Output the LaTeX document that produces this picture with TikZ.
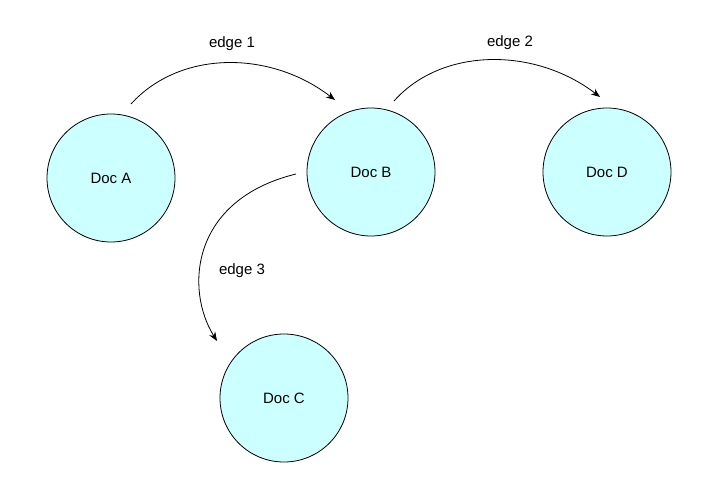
\documentclass[tikz,border=0pt]{standalone}
\usepackage{fontspec}
\setmainfont{Liberation Sans}
\usetikzlibrary{arrows.meta}
\definecolor{docfill}{HTML}{CCFFFF}
\begin{document}
\begin{tikzpicture}[x=1pt,y=-1pt,
  doc/.style={circle,draw=black,line width=0.8pt,fill=docfill,minimum size=128pt,inner sep=0pt,font=\fontsize{15}{18}\selectfont},
  lbl/.style={font=\fontsize{15}{18}\selectfont,inner sep=0pt},
  conn/.style={line width=0.8pt,-{Stealth[length=9pt,width=7pt]}}]
\useasboundingbox (0,0) rectangle (715,484);
\node[doc] (A) at (111,178) {Doc A};
\node[doc] (B) at (371,172) {Doc B};
\node[doc] (D) at (607,172) {Doc D};
\node[doc] (C) at (284,398) {Doc C};
\coordinate (a1) at (131,104);
\coordinate (b1) at (335,100);
\coordinate (b2) at (394,101);
\coordinate (d2) at (600,97);
\coordinate (b3) at (296,174);
\coordinate (c3) at (217,341);
\draw[conn] (a1) .. controls (180,50) and (270,50) .. (b1);
\draw[conn] (b2) .. controls (442,47) and (535,47) .. (d2);
\draw[conn] (b3) .. controls (190,200) and (185,290) .. (c3);
\node[lbl] (e1) at (232,44) {edge 1};
\node[lbl] (e2) at (510,43) {edge 2};
\node[lbl] (e3) at (242,271) {edge 3};
\end{tikzpicture}
\end{document}
